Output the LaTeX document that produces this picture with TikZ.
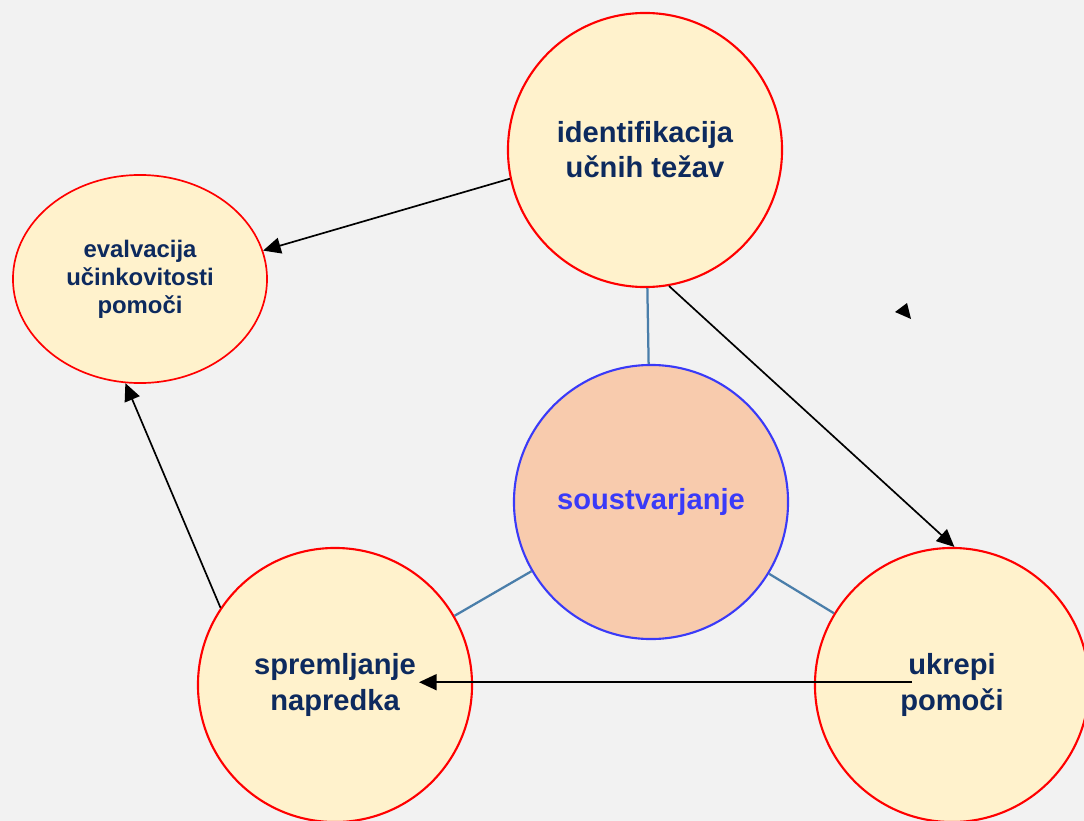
\documentclass[tikz,border=0pt]{standalone}
\usepackage{fontspec}
\setmainfont{Liberation Sans}
\usetikzlibrary{shapes.geometric,arrows.meta}

\definecolor{ozadje}{HTML}{F2F2F2}
\definecolor{rumena}{HTML}{FFF2CC}
\definecolor{breskev}{HTML}{F8CBAD}
\definecolor{mornarska}{HTML}{0D2A5E}
\definecolor{modra}{HTML}{3A3AF8}
\definecolor{vez}{HTML}{4A7EAA}

\begin{document}
\begin{tikzpicture}[x=0.025cm,y=-0.025cm,
  krog/.style={circle,draw=red,line width=1.5pt,fill=rumena,minimum size=6.85cm,inner sep=0pt,align=center,text=mornarska,font=\bfseries\fontsize{20.7}{25}\selectfont},
  elipsa/.style={ellipse,draw=red,line width=1.2pt,fill=rumena,minimum width=6.35cm,minimum height=5.2cm,inner sep=0pt,align=center,text=mornarska,font=\bfseries\fontsize{17}{20}\selectfont},
  jedro/.style={circle,draw=modra,line width=1.5pt,fill=breskev,minimum size=6.85cm,inner sep=0pt,text=modra,font=\bfseries\fontsize{20.7}{25}\selectfont},
  povezava/.style={draw=vez,line width=1.6pt},
  puscica/.style={draw=black,line width=1.2pt,-{Triangle[length=0.44cm,width=0.4cm]}}]

% Ozadje
\useasboundingbox (0,0) rectangle (1084,821);
\clip (0,0) rectangle (1084,821);
\fill[ozadje] (0,0) rectangle (1084,821);

% Jedro
\node[jedro] (soust) at (651,502)
{soustvarjanje};

% Etape
\node[krog] (ident) at (645,150)
{identifikacija\\učnih težav};

\node[krog] (ukrepi) at (952,685)
{ukrepi\\pomoči};

\node[krog] (sprem) at (335,685)
{spremljanje\\napredka};

\node[elipsa] (evalv) at (140,279)
{evalvacija\\učinkovitosti\\pomoči};

% Povezave z jedrom
\draw[povezava] (soust) -- (ident);
\draw[povezava] (soust) -- (ukrepi);
\draw[povezava] (soust) -- (sprem);

% Puscice
\draw[puscica] (ident.192) -- (evalv.13);

\draw[puscica] (ident.280) -- (ukrepi.89);

\draw[puscica] ([xshift=-1cm,yshift=0.07cm]ukrepi.center) -- ([xshift=2.1cm,yshift=0.07cm]sprem.center);

\draw[puscica] (sprem.146) -- (evalv.262);

% Osamljena konica
\fill (895,312) -- (907,303) -- (911,319) -- cycle;

\end{tikzpicture}
\end{document}
